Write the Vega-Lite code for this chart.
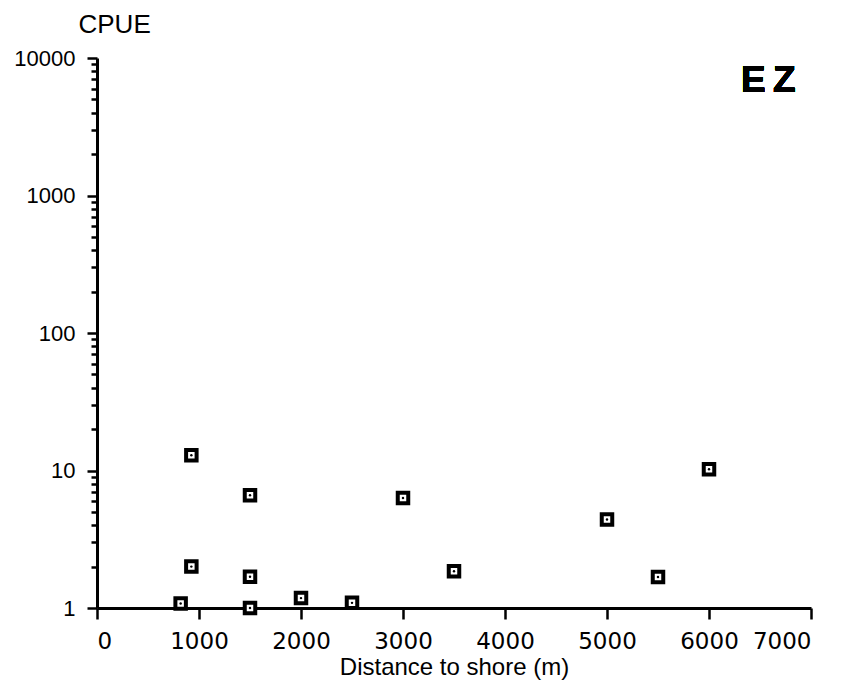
{
  "$schema": "https://vega.github.io/schema/vega-lite/v6.json",
  "width": 714,
  "height": 550,
  "autosize": {"type": "none"},
  "padding": {"left": 97, "top": 58, "right": 34, "bottom": 73},
  "background": "white",
  "config": {
    "view": {"stroke": null},
    "axis": {
      "grid": false,
      "domainColor": "black",
      "domainWidth": 3,
      "tickColor": "black",
      "tickWidth": 2.5,
      "labelColor": "black",
      "titleColor": "black"
    }
  },
  "data": {
    "values": [
      {"distance": 925, "cpue": 12.9},
      {"distance": 1500, "cpue": 6.6},
      {"distance": 3000, "cpue": 6.3},
      {"distance": 925, "cpue": 2.0},
      {"distance": 1500, "cpue": 1.69},
      {"distance": 820, "cpue": 1.08},
      {"distance": 1500, "cpue": 1.0},
      {"distance": 2000, "cpue": 1.18},
      {"distance": 2500, "cpue": 1.09},
      {"distance": 3500, "cpue": 1.85},
      {"distance": 5000, "cpue": 4.4},
      {"distance": 5500, "cpue": 1.68},
      {"distance": 6000, "cpue": 10.2}
    ]
  },
  "encoding": {
    "x": {
      "field": "distance",
      "type": "quantitative",
      "scale": {"domain": [0, 7000], "nice": false, "zero": true},
      "axis": {
        "values": [0, 1000, 2000, 3000, 4000, 5000, 6000, 7000],
        "format": "d",
        "tickSize": 11,
        "labelFont": "DejaVu Sans",
        "labelFontSize": 23,
        "labelPadding": 11,
        "title": "Distance to shore (m)",
        "titleFont": "Liberation Sans",
        "titleFontSize": 24,
        "titleFontWeight": "normal",
        "titlePadding": 2
      }
    }
  },
  "layer": [
    {
      "mark": {
        "type": "point",
        "shape": "square",
        "size": 110,
        "filled": true,
        "fill": "white",
        "stroke": "black",
        "strokeWidth": 4,
        "opacity": 1
      },
      "encoding": {
        "y": {
          "field": "cpue",
          "type": "quantitative",
          "scale": {"type": "log", "domain": [1, 10000], "nice": false},
          "axis": {
            "orient": "left",
            "values": [2, 3, 4, 5, 6, 7, 8, 9, 20, 30, 40, 50, 60, 70, 80, 90, 200, 300, 400, 500, 600, 700, 800, 900, 2000, 3000, 4000, 5000, 6000, 7000, 8000, 9000],
            "tickSize": 6,
            "tickWidth": 2.5,
            "labels": false,
            "domain": false,
            "title": null
          }
        }
      }
    },
    {
      "mark": {"type": "point", "shape": "circle", "size": 6, "filled": true, "color": "black", "opacity": 1},
      "encoding": {
        "y": {
          "field": "cpue",
          "type": "quantitative",
          "scale": {"type": "log", "domain": [1, 10000], "nice": false},
          "axis": {
            "orient": "left",
            "values": [1, 10, 100, 1000, 10000],
            "format": "d",
            "tickSize": 10,
            "labelFont": "Liberation Sans",
            "labelFontSize": 22,
            "labelPadding": 12,
            "title": "CPUE",
            "titleAngle": 0,
            "titleX": -19,
            "titleY": -26,
            "titleAlign": "left",
            "titleBaseline": "alphabetic",
            "titleFont": "Liberation Sans",
            "titleFontSize": 26,
            "titleFontWeight": "normal"
          }
        }
      }
    },
    {
      "mark": {
        "type": "text",
        "align": "right",
        "baseline": "alphabetic",
        "font": "Liberation Sans",
        "fontSize": 37,
        "fontWeight": "bold",
        "color": "black"
      },
      "encoding": {
        "x": {"datum": 6850},
        "y": {
          "datum": 5660,
          "scale": {"type": "log", "domain": [1, 10000], "nice": false},
          "axis": null
        },
        "text": {"value": "E\u2009Z"}
      }
    }
  ],
  "resolve": {"axis": {"y": "independent"}}
}
